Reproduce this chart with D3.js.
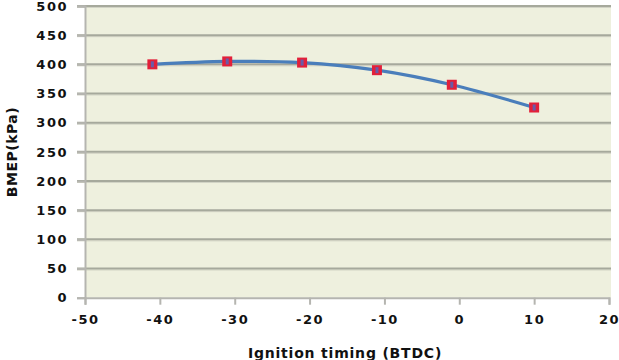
<!DOCTYPE html>
<html><head><meta charset="utf-8">
<script src="https://cdnjs.cloudflare.com/ajax/libs/d3/7.8.5/d3.min.js"></script>
<style>body{margin:0;background:#fff;}svg{display:block;}</style>
</head><body>
<script>
const ignitionTiming = [-41, -31, -21, -11, -1, 10];
const bmep = [400, 405, 403, 390, 365, 326];
const xTicks = [-50, -40, -30, -20, -10, 0, 10, 20];
const yTicks = [0, 50, 100, 150, 200, 250, 300, 350, 400, 450, 500];
const xTitle = "Ignition timing (BTDC)";
const yTitle = "BMEP(kPa)";

const W = 619, H = 360;
const svg = d3.select("body").append("svg").attr("width", W).attr("height", H);
const x = d3.scaleLinear().domain([-50, 20]).range([85, 609]);
const y = d3.scaleLinear().domain([0, 500]).range([297.7, 6]);

// plot background
svg.append("rect").attr("x", x(-50)).attr("y", y(500)).attr("width", x(20) - x(-50) + 2)
  .attr("height", y(0) - y(500)).attr("fill", "#eef0de");

// gridlines (dark line with lighter shadow)
const gl = svg.append("g").selectAll("g").data(yTicks.filter(d => d > 0)).join("g");
gl.append("line").attr("x1", x(-50) - 8).attr("x2", x(20) + 2)
  .attr("y1", d => y(d) + 1.5).attr("y2", d => y(d) + 1.5)
  .attr("stroke", "#d2d4c6").attr("stroke-width", 1);
gl.append("line").attr("x1", x(-50) - 8).attr("x2", x(20) + 2)
  .attr("y1", d => y(d)).attr("y2", d => y(d))
  .attr("stroke", "#a6a99c").attr("stroke-width", 2);

const fmt = d => String(d);

// y axis
const yAxis = d3.axisLeft(y).tickValues(yTicks).tickSize(8).tickPadding(9).tickFormat(fmt);
const gy = svg.append("g").attr("transform", `translate(${x(-50)},0)`).call(yAxis);
gy.select(".domain").attr("stroke", "#b5b5b0").attr("stroke-width", 2);
gy.selectAll(".tick line").attr("stroke", "#b5b5b0").attr("stroke-width", 2);
gy.selectAll("text").attr("font-family", "DejaVu Sans").attr("font-weight", "bold")
  .attr("font-size", 13).attr("fill", "#111").attr("letter-spacing", 1.5);

// x axis
const xAxis = d3.axisBottom(x).tickValues(xTicks).tickSize(7).tickPadding(10).tickFormat(fmt);
const gx = svg.append("g").attr("transform", `translate(0,${y(0)})`).call(xAxis);
gx.select(".domain").attr("stroke", "#b5b5b0").attr("stroke-width", 2);
gx.selectAll(".tick line").attr("stroke", "#b5b5b0").attr("stroke-width", 2);
gx.selectAll("text").attr("font-family", "DejaVu Sans").attr("font-weight", "bold")
  .attr("font-size", 13).attr("fill", "#111").attr("letter-spacing", 1.5);

// titles
svg.append("text").attr("x", 345).attr("y", 358).attr("text-anchor", "middle")
  .attr("font-family", "DejaVu Sans").attr("font-weight", "bold").attr("font-size", 14)
  .attr("letter-spacing", 0.8).attr("fill", "#111").text(xTitle);
svg.append("text").attr("transform", "translate(17,152) rotate(-90)").attr("text-anchor", "middle")
  .attr("font-family", "DejaVu Sans").attr("font-weight", "bold").attr("font-size", 14)
  .attr("letter-spacing", 0.5).attr("fill", "#111").text(yTitle);

// line
const pts = ignitionTiming.map((d, i) => [d, bmep[i]]);
svg.append("path").datum(pts)
  .attr("d", d3.line().x(d => x(d[0])).y(d => y(d[1])).curve(d3.curveCatmullRom.alpha(0.5)))
  .attr("fill", "none").attr("stroke", "#4a7ebb").attr("stroke-width", 3.2);

// markers
const m = svg.append("g").selectAll("g").data(pts).join("g")
  .attr("transform", d => `translate(${x(d[0])},${y(d[1])})`);
m.append("rect").attr("x", -5).attr("y", -5).attr("width", 10).attr("height", 10).attr("fill", "#e2203a");
m.append("rect").attr("x", -1.5).attr("y", -3).attr("width", 3).attr("height", 6).attr("fill", "#6a5aa8");
</script>
</body></html>
